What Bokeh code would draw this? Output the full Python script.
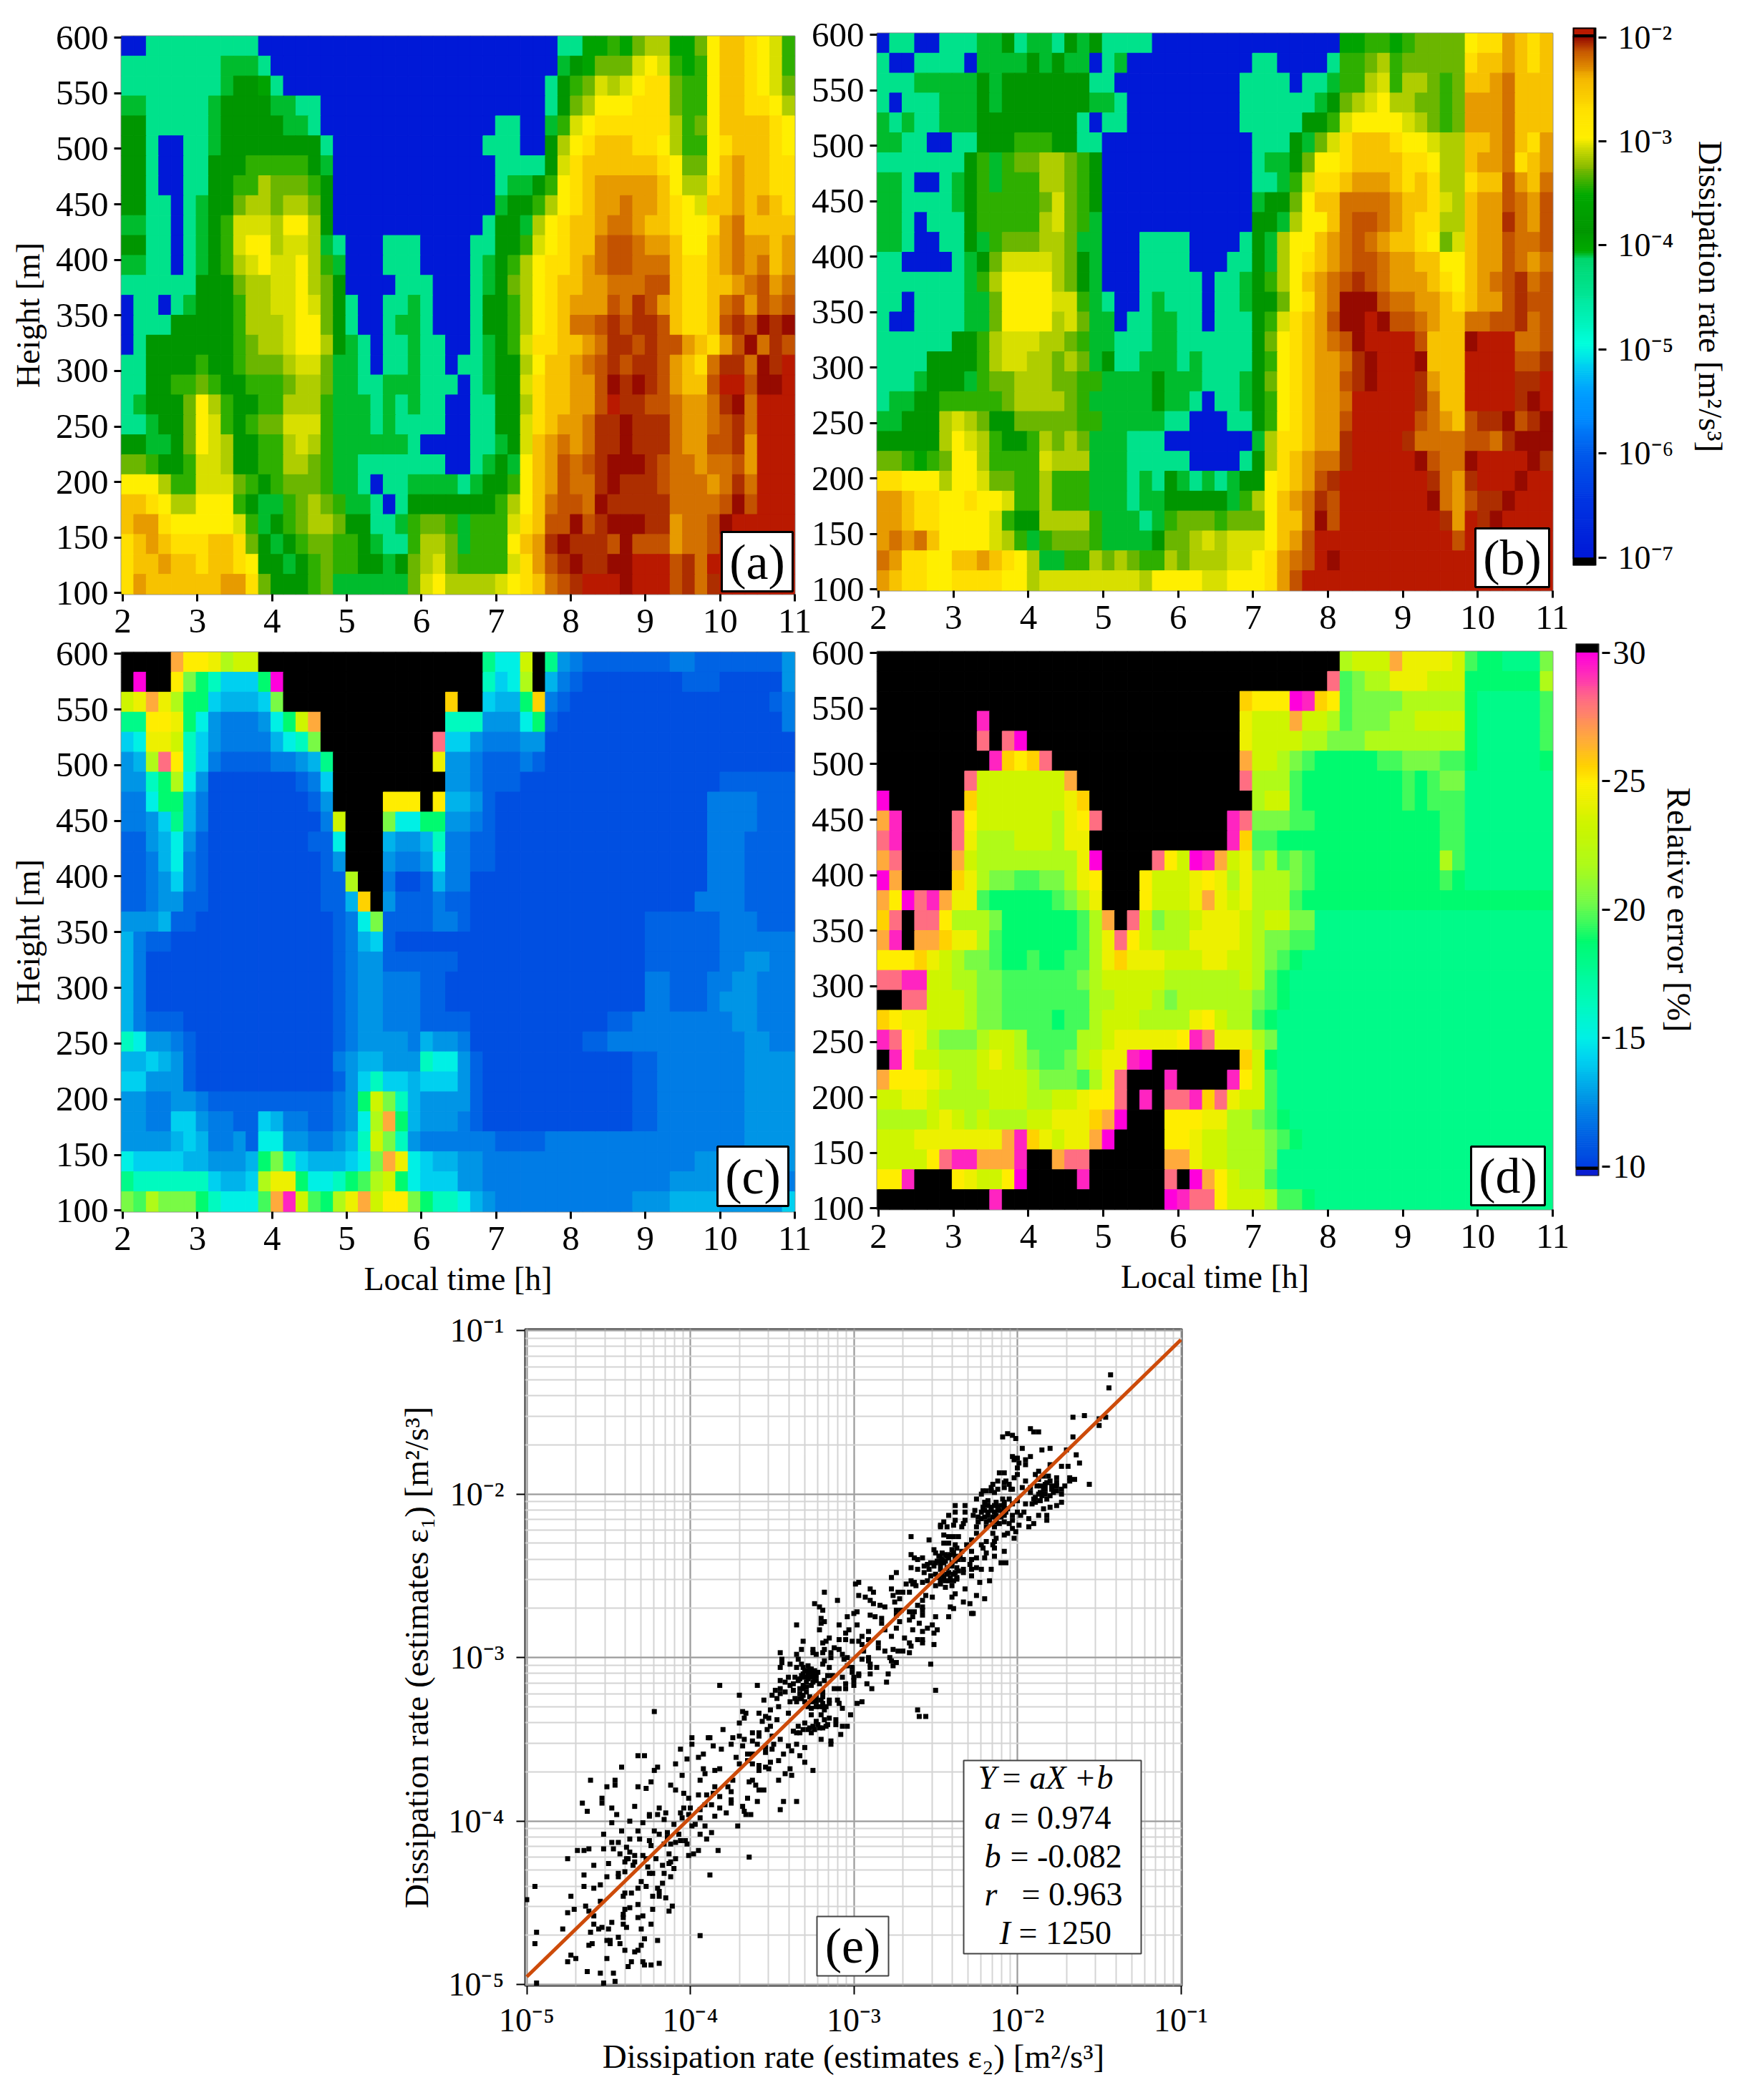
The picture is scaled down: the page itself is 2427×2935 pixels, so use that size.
import numpy as np
from bokeh.embed import file_html
from bokeh.resources import INLINE
from bokeh.plotting import figure
from bokeh.layouts import row, column
from bokeh.models import (ColumnDataSource, LinearColorMapper, Range1d, FixedTicker,
                          Label, BoxAnnotation, CustomJSTickFormatter)

# ---------- read values: heat-map levels, run-length coded per row, top row first ----------
DISS_LEVELS = dict(B=-7.0, M=-4.4, G=-4.08, g=-3.98, d=-3.85, h=-3.42, l=-3.29, o=-3.15, y=-3.04,
                   Y=-2.97, A=-2.7, a=-2.47, O=-2.33, r=-2.2, R=-2.12, D=-2.06, K=-2.0, X=-1.9)
ERR_LEVELS = dict(k=35.0, m=30.0, p=29.3, P=28.2, n=26.7, u=25.6, Y=25.0, E=24.3, e=23.3, L=21.8,
                  v=20.4, V=19.6, q=18.8, Q=18.0, s=16.3, c=15.0, C=14.2, t=13.4, T=12.7, b=12.0,
                  w=11.3, W=10.5)

PANEL_A = [
 "B2 M9 B24 M2 g2 h g l o2 g2 l Y a2 A Y y h",
 "M8 G3 M B23 G d g l3 y Y y h g h Y a2 A Y y h",
 "M8 G d2 g M B21 M d h l y o y Y A2 l h h Y a2 A Y y l",
 "G2 M5 G d4 G2 M2 B18 M d l o Y3 A3 l h2 Y a2 A2 Y o",
 "d2 M5 G d5 G2 M B14 M2 B2 G h y Y A6 o h l Y a4 A Y",
 "d2 M B2 M2 G d8 M B12 M3 B2 d o Y A a3 A2 Y o h2 Y A a3 A Y",
 "d2 M B2 M2 d3 h5 d G B13 M4 d y A a6 A Y l2 Y a O a2 A2",
 "d2 M B2 M2 d2 h2 o l3 h d B13 M G2 d h Y A a O5 a Y o2 A a O a2 A2",
 "d2 M2 B M G d2 l o2 l o2 l d B13 G d2 h o Y A a O2 r O2 a A Y y a2 O a O a A",
 "G2 M2 B M G d h y3 o Y2 o d B12 M d2 G o Y A a2 O r2 O a2 A Y2 A O r a4",
 "d2 M2 B M G d h y Y2 o y2 o G M B3 M3 B4 M2 d2 h y Y A a2 r R2 r O2 a Y2 a O r O2 a O",
 "G2 M2 B M G d h o y Y y2 Y o h G B3 M3 B4 M G d h o Y A2 a O r R2 r3 a A2 a O r O r a O",
 "M6 d3 l o2 y2 Y o l d B4 M3 B3 M G d l o Y A a2 O2 r3 R2 a A2 a2 O r R O r",
 "B M2 B M G d3 h o2 y2 Y y l d M B2 M2 G M B3 M d2 h o Y A a O3 R r D R O a A2 a r R O R r R",
 "B M3 d5 h o2 o y Y2 l d M B2 M G2 M B3 M d2 h o Y A a r2 R D R D2 R a A2 a R D R K D K",
 "B M d7 h l o2 y Y2 o d G M B M2 G M2 B2 M G d h y A2 a2 O r D2 R D R2 O a A O R K r D R K",
 "M2 d4 h d2 h l3 o y2 l G2 M B M2 G M2 B M2 G d2 o Y a2 O r R D R D2 R O a A r D2 r K D X",
 "M2 d2 h2 l h d2 h3 l o2 l G2 M2 G3 M3 B M G d2 y A a2 O2 R K D K D R O a2 R X2 R K2 X",
 "M G d3 l Y o h d2 h2 o3 h G3 M G M G M2 B2 M2 d2 o A a2 O2 R X D2 R2 r O2 r D K r X3",
 "M2 G d2 l Y y h d h l2 y3 h G3 M G M4 B2 M2 d2 y A a O2 r D2 K D3 r O2 r R D r X3",
 "d2 G2 d l Y y o d2 h2 o y o h G2 G4 M B4 M2 G d y a O r O r D2 K D3 r O2 R2 D O X3",
 "l2 h d2 h y2 o d2 h2 o2 l h G2 M7 B2 M G d G Y a O R r R D K3 D R r2 O r2 R O X3",
 "Y3 o h2 y3 l h d h l3 h G2 M B M2 G4 M G d2 h Y a O R r2 D K D3 R r3 O r D r X3",
 "a2 A Y o2 Y3 h d G2 h l o l h G2 M B M d7 h o Y a r R2 r K D5 r4 R K R X3",
 "a O2 A Y5 y h G d h l o2 l d2 M2 G h l2 h G h3 y A a R2 K R D K3 D2 O r2 R K X5",
 "A a O a A3 a2 A l d G d h l2 h2 d G M2 h o2 l G h3 Y a O D K D3 R K R3 O r2 R X6",
 "A a2 O a2 A a2 A Y d2 G d h l h2 d2 G d l o y l h4 y A O R D K D2 K2 X3 R D r X7",
 "A O a6 O2 A l d3 h l G6 l y Y o4 y Y A a r R D X3 K X3 R D r D X6",
]

PANEL_B = [
 "B M2 B2 M3 G2 d M G2 M d G d M4 B15 g2 h2 g h l3 l Y A2 O a A a",
 "M B2 M4 B G4 d G d G2 B M G B10 M2 B4 M h2 l o h l5 A a2 O a A a",
 "M3 G5 d G d7 M2 B10 M4 B M2 G h2 o y h o2 l h l a2 O r a3",
 "M B M3 G3 d G d7 G2 M B9 M6 G d l o y Y o2 l2 h l O3 r a3",
 "G M G M2 G3 d8 M B M2 B9 M5 d2 h y Y4 y o l h l O3 r a3",
 "G2 M2 B2 M2 d3 h3 d2 M2 B12 M3 d G l y A a3 A Y2 y o2 a2 O r a A O",
 "M7 d h G h l2 o2 l h d B12 M G2 d l Y2 A a4 A2 Y o2 a O2 r A a O",
 "G2 M B2 M G d h G h3 o2 l h d B12 M2 G h y A2 a O3 a A a A o2 A a2 R O a r",
 "G2 M4 G d h3 h2 l y l h d B12 G d2 l Y a2 r4 O a2 A y o a O2 R r O R",
 "G2 M B M3 d h2 h2 h o y l h G B12 d2 G o Y2 a r R2 r O a A2 o2 a O2 D r O R",
 "G2 M B2 M2 d G h l3 o2 l G2 B3 M4 B4 M d G o Y2 a O r R r O a2 A Y l y a O2 R r2 R",
 "M2 B4 M G d l y4 o l d G B3 M4 B3 M2 d G o Y A a O r R2 r O2 a2 Y2 a O2 R r O r",
 "M7 G h o Y4 o l d G B3 M5 B M2 G d h o Y a O r R D R r O3 a A Y a O r R D r R",
 "M2 B M4 G2 l Y4 y2 h G M B2 M G M3 B M2 G d2 l Y A O r K3 R r2 O2 a A a O2 R D R2",
 "M B2 M4 G2 l Y4 o y l G2 B M2 G2 M2 B M3 d h y A a O R K2 X K R2 r O a2 r2 R2 D r R",
 "M6 d2 h o y3 o2 l h G2 M3 G2 M6 d l Y A a O r R K X4 R a3 K X3 r2 R",
 "M4 d4 h o y2 o2 l o l G d M2 G3 M G M4 d h Y A a O2 r D K X3 K a3 X4 R2 D",
 "M3 G d3 G h l2 o3 l2 h2 G4 d G3 M3 G d l Y A a O2 R D K X3 D O a2 X4 D2 X",
 "M G2 d2 h5 l o4 l h G5 d G2 M B M2 G d h Y A a O2 r X5 D r a2 X4 D K X",
 "G2 d3 o y o l d2 l5 h2 G5 M2 B3 M2 d h Y A a O2 R X5 R r O a R D2 K R D K",
 "d5 o Y y o h d2 h o l o l G3 M3 B7 G o A2 a O2 D X4 D r4 R2 r D K3",
 "l2 h g h l Y2 o h4 y o3 G3 M5 B4 M d o A a O r2 D X5 K R r2 K X4 K D",
 "A2 Y3 o Y2 y l2 h2 o h3 G3 M G M d G M G M G d2 Y A a O R D X7 D r O D X3 K X2",
 "O2 a A2 Y2 A Y2 y h2 o h3 G3 M G2 d5 G h o Y a O r D R X7 K r O R D2 K X3",
 "O2 a A2 Y4 y h d2 o4 h G3 M G h l3 h l3 Y a a r K R X8 D O X D K X4",
 "O r O r a Y4 y o h G h l3 h G4 d l2 o y o y3 Y a O R X11 R X7",
 "r O A2 Y2 a2 O a A Y o G2 h2 o l o l h2 o l o3 y2 Y A O r R X K X17",
 "O a A2 Y2 A4 Y2 o y3 y5 o Y4 y2 Y3 A O R X20",
]

PANEL_C = [
 "k4 n Y2 E L e2 k18 Q c2 e k Q T b w7 b2 w7 T",
 "k m k2 Y v q s C3 q m k16 s C c L k t b w W8 w3 W5 T",
 "e E n E L q2 C t3 C v k13 u k2 C t2 q u b w W16 w b",
 "Q2 Y2 E q c T b3 T c q e n k10 s3 T3 c q w W18 b",
 "C c E2 e s C T b4 t c s v k9 P C2 T b3 T2 W20",
 "T t L P Y s C b w4 b2 T t Q k8 E T2 b w3 b w W20",
 "T2 s q L c T W7 w b C k9 T2 b w3 W16 w6",
 "b2 c q2 t b W8 w T k4 Y3 k Y t2 T w W17 b4 w3",
 "b2 T C Q t b W9 b e k3 v c2 q2 T2 b w W17 b4 w3",
 "w2 T t c T w W8 w2 c k3 t T2 t s b2 w2 W17 b3 w4",
 "w2 b t c b w W9 w T k3 T b2 T c b2 w2 W17 b3 w4",
 "w2 b T C b w W9 w2 L k2 b W2 w t b2 W19 b3 w4",
 "w2 b T2 w2 W9 w2 t u k T w3 b w2 W18 b4 w4",
 "T3 t w2 W11 w b c v w3 w b2 w W14 w6 b3 w3",
 "t b w2 W13 w b t C w W20 w6 b6",
 "t b W15 w b T2 w6 W15 w6 b2 T2 b2",
 "t b W15 w b T2 b3 w2 W16 b2 w3 b2 T2 b3",
 "t b W15 w b T2 b3 w2 W16 b2 w3 b T3 b3",
 "t b w3 W12 w b T2 b3 w4 W11 w2 b8 T2 b3",
 "s c T2 b w W11 w b T4 b t T2 b W9 w2 b11 T2 b2",
 "t2 C t T w W11 b T t2 T3 s c2 T w W12 w2 b7 T4",
 "C2 T3 w W11 w T C s C2 t C3 T w W12 w2 b7 T4",
 "T2 b2 T2 b w10 b T q e v s t T4 w W12 w2 b7 T4",
 "T2 b2 C2 T b2 w2 C t b2 w2 b T c L n q t T3 b w W12 w2 b7 T4",
 "T4 t C t b2 T w c2 T2 b2 T t s e v s T b6 w4 b16 T4",
 "c C4 t2 T3 t q v s C t3 C c v n E c C t2 T2 b17 T8",
 "Q s6 C t2 C L E2 q c2 s q V L e q c C3 T2 b15 T5 b5",
 "v V L v3 q s c3 V n p e V q L E n e Y2 v q s2 c t T b11 T3 t4 T5 C",
]

PANEL_D = [
 "k37 L e3 n E4 e V q2 Q3 v",
 "k36 P V v L2 E3 e3 q6 L",
 "k29 u Y3 m p u Y V v v3 L5 q Q5 V",
 "k8 p k20 E e3 n e2 L V v3 L2 e4 q Q5 V",
 "k8 P k P m k17 E e4 L2 v3 L8 q Q5 V",
 "k9 p u Y u P k15 n e2 L v V q5 V2 v3 V2 q Q5 q",
 "k7 P e7 n k13 P L3 V q8 V q V v2 Q7",
 "m k6 u e7 E u k13 L e2 V q8 V q V3 Q7",
 "n p k4 P Y e6 L E Y P k10 p P v3 V2 q10 V2 Q7",
 "P p k4 P E L3 e3 L E2 k11 p u V2 q13 V2 Q7",
 "n P k4 n e L8 E m k4 P Y e m p n e E v L V v V q10 L V Q7",
 "m n k4 u E L v2 V2 v2 L E Y k3 Y e3 E Y E L E L3 v V q10 V q Q7",
 "n Y m P p n E2 V q5 V v L E k3 Y e3 E n E e E L3 V q20",
 "u P k P2 Y L3 v q6 V L n k P e v L2 e E3 e L e2 v2 Q19",
 "n p k n2 u E2 L V q6 V L E P Y e L3 E4 e L v2 V2 Q19",
 "Y3 u E e L v2 V q2 V q2 V2 L E u E3 e3 E2 e2 L v V q Q20",
 "P2 p2 e2 L2 v2 V6 v L e5 L6 e L V q Q21",
 "k2 P2 e3 L v2 V7 L2 e3 L v L6 v V q Q21",
 "u Y E2 e3 L v2 V4 q V2 L e3 L4 E Y e L2 V q Q22",
 "p P Y E L v3 L e2 L V4 L2 e E5 Y p P E3 L v Q22",
 "k p Y e2 L3 e E e L v V2 v L e E2 p m k7 u e q Q22",
 "n Y3 E e L2 e4 L v3 V L E P k3 p k4 p Y e V Q22",
 "e2 E2 e L4 e3 L2 e2 E Y2 P k p k P2 p u P E e2 V Q22",
 "L4 e E e L e L3 e2 E3 u n m k3 Y3 E2 L2 v V q Q21",
 "e3 E7 n p u E e E2 n m k4 Y2 E e2 L3 v V q Q20",
 "e4 Y P p2 n3 p k2 n P2 k6 n2 E e2 L3 v Q22",
 "Y2 p k3 Y E e2 Y m k4 p k6 P k m n Y e L2 V Q22",
 "k9 p k13 m p P2 Y e3 L V2 q Q19",
]

# scatter: log10 of (estimates eps2, estimates eps1)
POINTS_LOW = [
(-4.22,-3.33),(-3.68,-3.33),(-3.66,-3.34),(-3.58,-3.34),(-3.67,-3.37),(-3.70,-3.40),(-3.51,-3.32),(-3.46,-3.30),(-3.40,-3.34),(-3.54,-3.36),
(-3.56,-3.39),(-3.52,-3.37),(-3.47,-3.38),(-3.51,-3.42),(-3.53,-3.44),(-3.80,-3.44),(-3.99,-3.49),(-3.89,-3.49),(-3.88,-3.49),(-3.74,-3.49),
(-3.70,-3.48),(-3.67,-3.50),(-3.62,-3.46),(-3.58,-3.46),(-3.62,-3.51),(-3.58,-3.48),(-3.50,-3.48),(-3.45,-3.50),(-3.99,-3.53),(-3.86,-3.54),
(-3.81,-3.56),(-3.75,-3.53),(-3.68,-3.54),(-3.59,-3.53),(-3.54,-3.55),(-3.49,-3.53),(-3.35,-3.53),(-3.30,-3.55),(-4.06,-3.56),(-4.32,-3.60),
(-4.28,-3.60),(-3.92,-3.59),(-3.95,-3.61),(-4.02,-3.62),(-3.72,-3.61),(-3.54,-3.58),(-3.50,-3.56),(-3.40,-3.54),(-3.43,-3.59),(-3.38,-3.57),
(-3.65,-3.59),(-3.62,-3.59),(-3.65,-3.63),(-3.46,-3.63),(-3.51,-3.64),(-3.33,-3.60),(-3.30,-3.64),(-4.09,-3.65),(-3.70,-3.65),(-3.62,-3.65),
(-3.58,-3.66),(-3.54,-3.67),(-4.20,-3.67),(-4.42,-3.67),(-4.22,-3.69),(-3.92,-3.68),(-3.91,-3.71),(-3.85,-3.69),(-3.82,-3.68),(-3.58,-3.69),
(-3.52,-3.68),(-3.39,-3.68),(-3.42,-3.71),(-3.38,-3.72),(-4.05,-3.72),(-4.61,-3.75),(-4.46,-3.75),(-4.46,-3.78),(-3.94,-3.75),(-3.46,-3.75),
(-4.24,-3.76),(-4.12,-3.78),(-4.51,-3.79),(-4.32,-3.79),(-4.27,-3.80),(-4.09,-3.81),(-3.74,-3.75),(-3.62,-3.75),(-3.64,-3.76),(-3.60,-3.78),
(-3.58,-3.81),(-3.55,-3.81),(-3.77,-3.79),(-3.85,-3.79),(-3.75,-3.82),(-4.04,-3.83),(-3.95,-3.84),(-3.90,-3.84),(-3.86,-3.83),(-3.82,-3.85),
(-4.54,-3.86),(-4.54,-3.89),(-4.01,-3.86),(-3.65,-3.86),(-3.43,-3.88),(-3.35,-3.88),(-3.75,-3.87),(-3.75,-3.89),(-3.59,-3.88),(-4.66,-3.89),
(-3.91,-3.90),(-3.87,-3.90),(-4.34,-3.91),(-4.48,-3.92),(-4.19,-3.92),(-3.82,-3.92),(-3.68,-3.91),(-3.67,-3.94),(-4.04,-3.92),(-4.00,-3.92),
(-4.63,-3.94),(-3.45,-3.93),(-4.06,-3.95),(-4.15,-3.95),(-4.45,-3.96),(-4.25,-3.96),(-4.20,-3.96),(-3.94,-3.93),(-3.78,-3.95),(-3.66,-3.96),
(-3.63,-3.96),(-3.85,-3.97),(-4.25,-3.97),(-4.01,-3.96),(-4.05,-3.98),(-3.94,-3.98),(-4.16,-3.99),(-4.37,-4.00),(-4.48,-4.01),(-4.29,-4.01),
(-4.10,-4.02),(-3.97,-4.02),(-3.99,-4.03),(-3.91,-4.03),(-3.71,-4.03),(-4.42,-4.06),(-4.32,-4.06),(-4.22,-4.06),(-4.19,-4.08),(-4.07,-4.08),
(-4.53,-4.08),(-4.14,-4.07),(-3.94,-4.08),(-3.87,-4.07),(-4.37,-4.11),(-4.31,-4.11),(-3.90,-4.11),(-4.25,-4.12),(-4.14,-4.10),(-4.06,-4.12),
(-4.03,-4.12),(-4.02,-4.14),(-4.48,-4.13),(-4.44,-4.13),(-4.24,-4.15),(-4.12,-4.14),(-4.16,-4.14),(-4.09,-4.13),(-4.39,-4.16),(-4.69,-4.18),
(-4.65,-4.18),(-4.62,-4.17),(-4.53,-4.17),(-4.47,-4.17),(-4.37,-4.19),(-3.95,-4.18),(-3.83,-4.18),(-4.43,-4.20),(-4.34,-4.21),(-4.29,-4.21),
(-4.13,-4.20),(-4.01,-4.21),(-3.98,-4.20),(-3.64,-4.22),(-4.75,-4.23),(-4.39,-4.23),(-4.38,-4.23),(-4.09,-4.23),(-4.27,-4.23),(-4.21,-4.23),
(-4.50,-4.26),(-4.40,-4.25),(-4.34,-4.25),(-4.35,-4.27),(-4.12,-4.25),(-4.59,-4.27),(-4.17,-4.27),(-4.13,-4.26),(-4.26,-4.28),(-4.10,-4.29),
(-4.40,-4.31),(-4.44,-4.32),(-4.44,-4.34),(-4.25,-4.32),(-4.23,-4.32),(-4.16,-4.32),(-4.12,-4.34),(-4.51,-4.34),(-4.65,-4.33),(-3.88,-4.33),
(-4.30,-4.37),(-4.17,-4.38),(-4.55,-4.39),(-4.95,-4.40),(-4.65,-4.40),(-4.27,-4.40),(-4.59,-4.41),(-4.32,-4.41),(-4.20,-4.41),(-4.19,-4.43),
(-4.36,-4.44),(-4.40,-4.44),(-4.41,-4.46),(-4.23,-4.46),(-4.19,-4.46),(-4.15,-4.47),(-4.55,-4.49),(-5.00,-4.48),(-4.73,-4.46),(-4.32,-4.51),
(-4.64,-4.52),(-4.11,-4.52),(-4.37,-4.53),(-4.71,-4.54),(-4.75,-4.56),(-4.62,-4.55),(-4.23,-4.54),(-4.40,-4.54),(-4.13,-4.55),(-4.41,-4.57),
(-4.29,-4.58),(-4.32,-4.59),(-4.59,-4.58),(-4.41,-4.59),(-4.48,-4.62),(-4.59,-4.63),(-4.54,-4.65),(-4.56,-4.66),(-4.41,-4.63),(-4.39,-4.65),
(-4.24,-4.63),(-4.78,-4.66),(-4.50,-4.66),(-4.30,-4.66),(-4.94,-4.68),(-4.61,-4.68),(-3.94,-4.70),(-4.44,-4.71),(-4.28,-4.72),(-4.51,-4.73),
(-4.49,-4.73),(-4.49,-4.75),(-4.20,-4.73),(-4.95,-4.75),(-4.43,-4.75),(-4.60,-4.75),(-4.62,-4.76),(-4.30,-4.76),(-4.40,-4.79),(-4.34,-4.80),
(-4.32,-4.79),(-4.73,-4.82),(-4.70,-4.84),(-4.51,-4.84),(-4.75,-4.86),(-4.36,-4.86),(-4.29,-4.86),(-4.28,-4.88),(-4.24,-4.88),(-4.19,-4.87),
(-4.38,-4.89),(-4.63,-4.92),(-4.55,-4.93),(-4.47,-4.93),(-4.53,-4.99),(-4.46,-4.98),(-4.94,-4.99),
]
POINTS_MID = [
(-2.47,-2.20),(-2.43,-2.20),(-2.39,-2.19),(-2.34,-2.20),(-2.42,-2.26),(-2.39,-2.26),(-2.36,-2.26),(-2.45,-2.25),(-2.65,-2.26),(-2.54,-2.28),
(-2.28,-2.28),(-2.45,-2.30),(-2.42,-2.30),(-2.38,-2.31),(-2.31,-2.31),(-2.51,-2.34),(-2.40,-2.34),(-2.37,-2.33),(-2.34,-2.35),(-2.28,-2.35),
(-2.65,-2.37),(-2.63,-2.39),(-2.61,-2.40),(-2.58,-2.39),(-2.47,-2.38),(-2.43,-2.38),(-2.39,-2.36),(-2.35,-2.38),(-2.33,-2.40),(-2.28,-2.40),
(-2.50,-2.42),(-2.46,-2.40),(-2.42,-2.39),(-2.36,-2.40),(-2.29,-2.43),(-2.65,-2.45),(-2.61,-2.46),(-2.57,-2.44),(-2.54,-2.46),(-2.51,-2.44),
(-2.47,-2.43),(-2.45,-2.42),(-2.57,-2.48),(-2.37,-2.45),(-2.33,-2.46),(-2.28,-2.46),(-2.74,-2.48),(-2.77,-2.51),(-2.53,-2.50),(-2.50,-2.49),
(-2.45,-2.51),(-2.42,-2.48),(-2.38,-2.48),(-2.37,-2.51),(-2.33,-2.48),(-2.28,-2.50),(-2.97,-2.54),(-2.99,-2.55),(-2.68,-2.55),(-2.65,-2.53),
(-2.63,-2.54),(-2.58,-2.54),(-2.55,-2.53),(-2.47,-2.53),(-2.45,-2.52),(-2.42,-2.53),(-2.37,-2.52),(-2.90,-2.58),(-2.88,-2.60),(-2.77,-2.58),
(-2.76,-2.62),(-2.73,-2.60),(-2.70,-2.60),(-2.66,-2.60),(-2.62,-2.56),(-2.64,-2.55),(-2.50,-2.56),(-2.47,-2.55),(-2.44,-2.57),(-2.40,-2.56),
(-2.32,-2.58),(-3.18,-2.60),(-2.97,-2.62),(-2.93,-2.63),(-2.90,-2.65),(-2.72,-2.64),(-2.75,-2.66),(-2.56,-2.62),(-2.52,-2.63),(-2.38,-2.61),
(-2.40,-2.63),(-3.10,-2.65),(-2.88,-2.67),(-2.58,-2.65),(-2.84,-2.68),(-2.81,-2.69),(-3.24,-2.67),(-3.21,-2.69),(-3.19,-2.71),(-2.61,-2.68),
(-2.58,-2.69),(-2.41,-2.69),(-2.39,-2.70),(-2.33,-2.66),(-2.29,-2.67),(-2.74,-2.71),(-2.71,-2.71),(-2.66,-2.72),(-2.63,-2.72),(-2.58,-2.71),
(-2.98,-2.72),(-3.00,-2.73),(-2.28,-2.73),(-2.90,-2.74),(-2.87,-2.75),(-2.74,-2.74),(-3.04,-2.75),(-2.64,-2.75),(-2.58,-2.74),(-2.50,-2.75),
(-2.42,-2.75),(-3.20,-2.76),(-3.18,-2.78),(-3.20,-2.79),(-2.83,-2.76),(-2.83,-2.79),(-2.72,-2.78),(-2.66,-2.77),(-3.35,-2.80),(-3.09,-2.80),
(-2.98,-2.80),(-2.60,-2.79),(-2.52,-2.80),(-3.21,-2.83),(-3.03,-2.83),(-3.05,-2.85),(-2.81,-2.83),(-2.74,-2.82),(-2.64,-2.83),(-2.55,-2.82),
(-2.58,-2.84),(-2.49,-2.83),(-2.51,-2.85),(-2.91,-2.84),(-2.77,-2.87),(-3.15,-2.88),(-3.17,-2.90),(-3.19,-2.91),(-3.09,-2.89),(-3.05,-2.89),
(-2.95,-2.87),(-3.01,-2.90),(-2.97,-2.90),(-2.95,-2.92),(-2.91,-2.89),(-2.69,-2.88),(-2.66,-2.91),(-2.61,-2.89),(-2.58,-2.89),(-2.58,-2.91),
(-2.51,-2.92),(-3.31,-2.90),(-2.85,-2.91),(-2.85,-2.94),(-2.65,-2.93),(-3.32,-2.95),(-3.12,-2.94),(-3.09,-2.95),(-3.25,-2.95),(-3.18,-2.95),
(-3.14,-2.97),(-3.25,-2.97),(-2.76,-2.95),(-2.73,-2.96),(-2.70,-2.96),(-2.81,-2.96),(-2.66,-2.97),(-3.45,-2.97),(-3.35,-2.98),(-3.23,-2.98),
(-3.19,-2.97),(-3.07,-2.98),(-3.04,-3.00),(-2.94,-2.96),(-2.91,-3.00),(-2.78,-3.00),(-3.34,-3.01),(-3.18,-3.02),(-3.14,-3.00),(-3.06,-3.01),
(-3.44,-3.01),(-3.44,-3.03),(-2.95,-3.01),(-2.91,-3.02),(-2.90,-3.04),(-3.39,-3.04),(-3.32,-3.04),(-2.77,-3.02),(-2.74,-3.03),(-3.19,-3.04),
(-2.76,-3.05),(-2.53,-3.04),(-3.45,-3.06),(-3.35,-3.06),(-3.31,-3.06),(-3.28,-3.05),(-3.26,-3.07),(-3.15,-3.06),(-3.04,-3.05),(-3.01,-3.06),
(-2.90,-3.06),(-2.86,-3.06),(-3.29,-3.08),(-3.26,-3.09),(-3.16,-3.11),(-3.13,-3.11),(-3.01,-3.09),(-2.97,-3.10),(-2.90,-3.10),(-2.79,-3.10),
(-3.40,-3.12),(-3.36,-3.12),(-3.32,-3.11),(-3.28,-3.12),(-3.23,-3.11),(-3.07,-3.12),(-3.00,-3.12),(-2.97,-3.11),(-3.45,-3.14),(-3.42,-3.15),
(-3.37,-3.16),(-3.28,-3.13),(-3.34,-3.14),(-3.23,-3.14),(-3.18,-3.14),(-3.00,-3.14),(-2.92,-3.16),(-2.80,-3.15),(-3.82,-3.17),(-3.59,-3.17),
(-3.39,-3.17),(-3.31,-3.17),(-3.26,-3.17),(-3.12,-3.19),(-3.09,-3.19),(-3.05,-3.16),(-3.05,-3.19),(-3.00,-3.17),(-2.89,-3.19),(-3.45,-3.19),
(-3.48,-3.20),(-3.37,-3.20),(-3.31,-3.19),(-2.50,-3.20),(-3.42,-3.21),(-3.45,-3.22),(-3.70,-3.23),(-3.50,-3.23),(-3.31,-3.23),(-3.23,-3.24),
(-3.19,-3.21),(-3.19,-3.24),(-3.47,-3.25),(-3.55,-3.26),(-3.39,-3.27),(-3.35,-3.27),(-3.32,-3.25),(-3.15,-3.26),(-3.10,-3.26),(-2.95,-3.27),
(-2.98,-3.28),(-3.19,-3.28),(-3.15,-3.28),(-3.09,-3.28),(-3.26,-3.31),(-3.19,-3.30),(-3.07,-3.31),(-3.23,-3.30),(-3.18,-3.32),(-3.26,-3.35),
(-3.20,-3.35),(-3.02,-3.35),(-2.61,-3.32),(-2.60,-3.36),(-2.56,-3.36),(-3.15,-3.37),(-3.11,-3.38),(-3.23,-3.39),(-3.18,-3.38),(-3.11,-3.41),
(-3.25,-3.42),(-3.21,-3.43),(-3.16,-3.41),(-3.07,-3.42),(-3.04,-3.42),(-3.26,-3.46),(-3.08,-3.47),(-3.20,-3.50),(-3.14,-3.51),(-3.14,-3.53),
(-3.25,-3.69),
]
POINTS_HIGH = [
(-1.43,-1.27),(-1.44,-1.35),(-1.66,-1.53),(-1.59,-1.52),(-1.50,-1.54),(-1.46,-1.53),(-1.50,-1.58),(-1.92,-1.60),(-1.90,-1.62),(-1.87,-1.62),
(-2.09,-1.65),(-2.06,-1.63),(-2.03,-1.64),(-2.01,-1.66),(-1.66,-1.65),(-1.97,-1.72),(-1.80,-1.72),(-1.85,-1.73),(-1.70,-1.73),(-2.03,-1.77),
(-2.00,-1.78),(-1.92,-1.77),(-1.95,-1.79),(-1.64,-1.76),(-2.02,-1.79),(-1.99,-1.81),(-1.95,-1.82),(-2.00,-1.84),(-1.62,-1.81),(-1.80,-1.82),
(-1.73,-1.83),(-1.69,-1.83),(-2.11,-1.87),(-2.08,-1.87),(-1.87,-1.86),(-1.89,-1.88),(-2.00,-1.88),(-2.02,-1.90),(-2.05,-1.94),(-2.08,-1.93),
(-2.15,-1.94),(-1.95,-1.92),(-1.87,-1.91),(-1.84,-1.89),(-1.81,-1.89),(-1.76,-1.90),(-1.68,-1.90),(-1.65,-1.91),(-1.68,-1.92),(-1.56,-1.94),
(-1.76,-1.93),(-1.83,-1.94),(-1.79,-1.95),(-1.71,-1.95),(-2.12,-1.97),(-2.08,-1.96),(-2.04,-1.97),(-1.97,-1.96),(-1.88,-1.95),(-1.84,-1.97),
(-1.79,-1.97),(-1.73,-1.97),(-2.21,-1.98),(-2.16,-1.98),(-2.14,-1.99),(-2.22,-2.00),(-1.92,-1.99),(-1.87,-2.00),(-1.83,-2.00),(-1.80,-2.01),
(-1.73,-2.00),(-2.25,-2.03),(-2.18,-2.04),(-2.09,-2.03),(-2.05,-2.03),(-2.00,-2.04),(-1.89,-2.02),(-1.86,-2.04),(-2.20,-2.05),(-2.13,-2.05),
(-2.08,-2.05),(-2.03,-2.06),(-1.95,-2.06),(-1.91,-2.06),(-1.89,-2.05),(-1.73,-2.05),(-2.38,-2.07),(-2.32,-2.07),(-1.76,-2.07),(-2.21,-2.08),
(-2.16,-2.08),(-2.12,-2.08),(-2.08,-2.08),(-1.84,-2.09),(-1.80,-2.08),(-2.38,-2.11),(-2.32,-2.11),(-2.26,-2.10),(-2.22,-2.11),(-2.18,-2.11),
(-2.14,-2.11),(-2.09,-2.11),(-2.00,-2.11),(-1.96,-2.11),(-2.27,-2.13),(-2.42,-2.13),(-1.87,-2.13),(-2.20,-2.14),(-2.15,-2.14),(-2.08,-2.13),
(-2.03,-2.13),(-1.98,-2.13),(-1.93,-2.15),(-1.82,-2.13),(-1.82,-2.16),(-2.32,-2.16),(-2.38,-2.16),(-2.33,-2.18),(-2.45,-2.17),(-2.24,-2.17),
(-2.19,-2.17),(-2.13,-2.17),(-2.08,-2.17),(-2.03,-2.16),(-1.99,-2.19),(-1.90,-2.18),(-2.47,-2.19),(-1.93,-2.20),(-2.25,-2.20),(-2.19,-2.20),
(-2.14,-2.20),(-2.03,-2.21),(-2.01,-2.23),(-2.25,-2.24),(-2.15,-2.24),(-2.06,-2.24),(-2.08,-2.25),(-2.13,-2.27),(-2.02,-2.27),(-2.19,-2.29),
(-2.14,-2.29),(-2.22,-2.31),(-2.15,-2.31),(-2.21,-2.33),(-2.14,-2.33),(-2.08,-2.35),(-2.19,-2.36),(-2.14,-2.38),(-2.25,-2.39),(-2.20,-2.39),
(-2.10,-2.42),(-2.07,-2.42),(-2.25,-2.45),(-2.22,-2.46),(-2.16,-2.46),(-2.17,-2.53),(-2.23,-2.54),(-2.25,-2.62),(-2.20,-2.64),(-2.27,-2.73),
]
POINTS_CORE = [
(-3.30,-3.08),(-3.27,-3.07),(-3.24,-3.08),(-3.31,-3.10),(-3.28,-3.10),(-3.25,-3.10),(-3.22,-3.09),(-3.30,-3.12),(-3.26,-3.12),(-3.24,-3.13),
(-3.33,-3.13),(-3.29,-3.15),(-3.25,-3.15),(-3.21,-3.16),(-3.33,-3.19),(-3.29,-3.18),(-3.33,-3.22),(-3.29,-3.21),(-3.27,-3.24),(-3.33,-3.25),
(-3.36,-3.25),(-3.30,-3.27),(-3.26,-3.27),(-3.23,-3.27),(-3.20,-3.26),(-3.21,-3.30),(-3.17,-3.30),(-3.28,-3.30),(-3.31,-3.44),(-3.34,-3.42),
(-3.30,-3.40),(-3.37,-3.45),(-3.35,-3.46),(-3.33,-3.46),(-3.28,-3.44),(-3.24,-3.44),(-3.22,-3.41),(-3.19,-3.43),(-3.27,-3.43),(-3.17,-3.42),
(-2.50,-2.36),(-2.48,-2.38),(-2.46,-2.36),(-2.44,-2.37),(-2.41,-2.37),(-2.38,-2.38),(-2.55,-2.43),(-2.53,-2.42),(-2.49,-2.41),(-2.44,-2.41),
(-2.40,-2.42),(-2.38,-2.41),(-2.47,-2.46),(-2.43,-2.45),(-2.40,-2.44),(-2.36,-2.47),(-2.39,-2.49),(-2.43,-2.49),(-2.46,-2.49),(-2.48,-2.51),
(-2.41,-2.51),(-2.39,-2.53),(-2.44,-2.53),(-2.18,-2.07),(-2.14,-2.07),(-2.10,-2.07),(-2.06,-2.09),(-2.20,-2.10),(-2.16,-2.10),(-2.11,-2.10),
(-2.07,-2.11),(-2.18,-2.13),(-2.13,-2.13),(-2.10,-2.14),(-2.24,-2.14),(-2.22,-2.15),(-2.17,-2.16),(-2.13,-2.15),(-2.11,-2.18),(-2.05,-2.18),
(-1.90,-2.03),(-1.85,-2.01),(-1.82,-2.03),(-1.86,-1.99),(-1.83,-1.97),(-1.78,-1.99),(-1.76,-1.98),(-1.82,-1.93),(-1.80,-1.92),(-1.76,-1.95),
(-1.86,-1.95),(-1.92,-1.96),(-2.12,-1.92),(-2.07,-1.92),(-2.03,-1.97),(-2.16,-1.96),(-2.19,-1.98),
]
FIT_A = 0.974
FIT_B = -0.082
FIT_X = [1e-5, 1e-1]

TIME_TICKS = list(range(2, 12))
HEIGHT_TICKS = list(range(100, 601, 50))
DISS_TICKS = [-7, -6, -5, -4, -3, -2]
ERR_TICKS = [10, 15, 20, 25, 30]

# ---------- style ----------
SERIF = "Liberation Serif"
FS = "46px"
FS_TICK = "49px"
SUP = {1: "\u00b9", 2: "\u00b2", 3: "\u00b3", 4: "\u2074", 5: "\u2075", 6: "\u2076", 7: "\u2077"}

DISS_ANCHORS = [(-7, (0, 25, 215)), (-6.5, (0, 50, 225)), (-6, (0, 90, 235)), (-5.65, (0, 140, 255)),
                (-5.4, (0, 160, 255)), (-5.15, (0, 210, 240)), (-4.95, (0, 255, 220)), (-4.4, (0, 226, 140)),
                (-4.12, (0, 215, 110)), (-4.05, (0, 170, 0)), (-3.85, (0, 150, 0)), (-3.5, (0, 170, 0)),
                (-3.25, (130, 185, 0)), (-3.05, (210, 220, 0)), (-2.97, (255, 240, 0)), (-2.7, (255, 225, 0)),
                (-2.4, (245, 185, 0)), (-2.13, (200, 90, 0)), (-2.0, (150, 10, 0))]
ERR_ANCHORS = [(10, (0, 60, 225)), (10.5, (0, 80, 225)), (11.3, (0, 100, 228)), (12, (0, 125, 230)),
               (12.7, (0, 150, 230)), (13.4, (0, 180, 235)), (14.2, (0, 210, 240)), (15, (0, 240, 230)),
               (16.3, (0, 250, 190)), (17.6, (0, 250, 150)), (18.8, (0, 250, 110)), (19.6, (70, 250, 90)),
               (20.4, (120, 250, 70)), (21.8, (175, 250, 25)), (23.3, (205, 245, 0)), (24.3, (235, 240, 0)),
               (25, (255, 240, 0)), (25.6, (255, 210, 0)), (26.7, (255, 170, 60)), (28.2, (255, 110, 130)),
               (29.3, (255, 40, 190)), (30, (255, 0, 220))]


def palette(anchors, n=256):
    v = np.array([a[0] for a in anchors], float)
    c = np.array([a[1] for a in anchors], float)
    t = np.linspace(v[0], v[-1], n)
    return ["#%02x%02x%02x" % tuple(int(round(np.interp(q, v, c[:, k]))) for k in range(3)) for q in t]


diss_mapper = LinearColorMapper(palette=palette(DISS_ANCHORS), low=-7, high=-2, low_color="#000000", high_color="#b91900")
err_mapper = LinearColorMapper(palette=palette(ERR_ANCHORS), low=10, high=30, low_color="#0a1ed2", high_color="#000000")


def decode(rows, levels, ncol=54):
    out = []
    for r in rows:
        cells = []
        for tok in r.split():
            cells += [levels[tok[0]]] * (int(tok[1:]) if len(tok) > 1 else 1)
        cells = (cells + [cells[-1]] * ncol)[:ncol]
        out.append(cells)
    return np.array(out)


def panel(rows, levels, mapper, tag, fx, fy, fw, fh, ml, mt, mr, mb, tagbox, ylabel=False, xlabel=False):
    """fx/fy: frame position on the page; ml/mt/mr/mb: borders; tagbox in page pixels."""
    x0, x1, y0, y1 = 1.98, 11.0, 99.0, 601.4
    p = figure(frame_width=fw, frame_height=fh, x_range=Range1d(x0, x1), y_range=Range1d(y0, y1),
               output_backend="svg", toolbar_location=None, min_border_left=ml, min_border_top=mt,
               min_border_right=mr, min_border_bottom=mb,
               border_fill_color=None, background_fill_color="white")
    p.grid.visible = False
    z = decode(rows, levels)
    nr, nc = z.shape
    xe = np.linspace(x0, x1, nc + 1)
    ye = np.linspace(y1, y0, nr + 1)
    xc, yc = np.meshgrid((xe[:-1] + xe[1:]) / 2, (ye[:-1] + ye[1:]) / 2)
    src = ColumnDataSource(dict(x=xc.ravel(), y=yc.ravel(), v=z.ravel()))
    tr = {"field": "v", "transform": mapper}
    p.rect("x", "y", width=xe[1] - xe[0], height=ye[0] - ye[1], source=src,
           fill_color=tr, line_color=tr, line_width=1)
    for ax, ticks in ((p.xaxis, TIME_TICKS), (p.yaxis, HEIGHT_TICKS)):
        ax.ticker = FixedTicker(ticks=ticks)
        ax.major_label_text_font = SERIF
        ax.major_label_text_font_size = FS_TICK
        ax.major_label_text_color = "black"
        ax.major_tick_line_color = "black"
        ax.major_tick_line_width = 3
        ax.major_tick_out = 10
        ax.major_tick_in = 0
        ax.minor_tick_line_color = None
        ax.axis_line_color = None
        ax.axis_label_text_font = SERIF
        ax.axis_label_text_font_size = FS
        ax.axis_label_text_font_style = "normal"
        ax.axis_label_text_color = "black"
    p.xaxis.major_label_standoff = 11
    p.yaxis.major_label_standoff = 8
    if ylabel:
        p.yaxis.axis_label = "Height [m]"
        p.yaxis.axis_label_standoff = 10
    if xlabel:
        p.xaxis.axis_label = "Local time [h]"
        p.xaxis.axis_label_standoff = 12
    p.outline_line_color = "#8c8c8c"
    p.outline_line_width = 2
    to_x = lambda px: x0 + (px - fx) / fw * (x1 - x0)
    to_y = lambda py: y1 - (py - fy) / fh * (y1 - y0)
    bx0, bx1, by0, by1 = tagbox
    p.add_layout(BoxAnnotation(left=to_x(bx0), right=to_x(bx1), top=to_y(by0), bottom=to_y(by1),
                               fill_color="white", fill_alpha=1, line_color="black", line_alpha=1, line_width=3))
    p.add_layout(Label(x=to_x((bx0 + bx1) / 2), y=to_y((by0 + by1) / 2), text=tag, text_font=SERIF,
                       text_font_size="70px", text_align="center", text_baseline="middle", text_color="black"))
    return p


pa = panel(PANEL_A, DISS_LEVELS, diss_mapper, "(a)", 169, 50, 941, 780, 161, 42, 30, 115, (1008, 1107, 743, 826), ylabel=True)
pb = panel(PANEL_B, DISS_LEVELS, diss_mapper, "(b)", 1225, 46, 944, 779, 95, 38, 23, 115, (2061, 2164, 738, 820))
pc = panel(PANEL_C, ERR_LEVELS, err_mapper, "(c)", 169, 911, 941, 782, 161, 31, 30, 130, (1002, 1101, 1602, 1685), ylabel=True, xlabel=True)
pd_ = panel(PANEL_D, ERR_LEVELS, err_mapper, "(d)", 1224, 910, 944, 780, 94, 30, 24, 133, (2054, 2157, 1602, 1684), xlabel=True)
pb.margin = (-4, 0, 0, -10)
pd_.margin = (-1, 0, 0, -10)


def colorbar(mapper, ticks, overrides, title, ymin, ymax, vlow, vhigh, extras, barw, fw, ml, mt, fh, mb, std, tstd, outline):
    p = figure(frame_width=fw, frame_height=fh, x_range=Range1d(0, fw), y_range=Range1d(ymin, ymax),
               x_axis_location=None, y_axis_location="right", output_backend="svg", toolbar_location=None,
               min_border_left=ml, min_border_top=mt, min_border_right=227 - ml - fw,
               min_border_bottom=mb, border_fill_color=None, background_fill_color=None)
    p.grid.visible = False
    p.outline_line_color = None
    vals = np.linspace(vlow, vhigh, 241)
    st = vals[1] - vals[0]
    src = ColumnDataSource(dict(y=vals, x=np.full(vals.shape, barw / 2)))
    tr = {"field": "y", "transform": mapper}
    p.rect("x", "y", width=barw, height=st, source=src, fill_color=tr, line_color=tr, line_width=1)
    for (a, b, col) in extras:
        p.quad(left=0, right=barw, bottom=a, top=b, fill_color=col, line_color=col, line_width=0)
    p.quad(left=0, right=barw, bottom=ymin, top=ymax, fill_color=None, line_color=outline[0], line_width=outline[1])
    ax = p.yaxis[0]
    ax.ticker = FixedTicker(ticks=ticks)
    if overrides:
        ax.major_label_overrides = overrides
    ax.major_label_text_font = SERIF
    ax.major_label_text_font_size = FS
    ax.major_label_text_color = "black"
    ax.major_tick_line_color = "black"
    ax.major_tick_line_width = 3
    ax.major_tick_out = 11
    ax.major_tick_in = 0
    ax.minor_tick_line_color = None
    ax.axis_line_color = None
    ax.major_label_standoff = std
    ax.axis_label = title
    ax.axis_label_text_font = SERIF
    ax.axis_label_text_font_size = "47px"
    ax.axis_label_text_font_style = "normal"
    ax.axis_label_text_color = "black"
    ax.axis_label_standoff = tstd
    return p


cb1 = colorbar(diss_mapper, DISS_TICKS, {t: "10\u207b" + SUP[-t] for t in DISS_TICKS}, "Dissipation rate [m\u00b2/s\u00b3]",
               -7.078, -1.906, -7, -2,
               [(-2.0, -1.906, "#b91900"), (-2.0, -1.972, "#000000"), (-7.078, -7.0, "#000000")],
               31, 36, 5, 42, 752, 100, 16, 22, ("black", 4))
cb1.margin = (-12, 0, 0, 0)
cb2 = colorbar(err_mapper, ERR_TICKS, None, "Relative error [%]",
               9.64, 30.35, 10, 30,
               [(30.0, 30.35, "#000000"), (9.88, 10.0, "#000000"), (9.64, 9.88, "#0a1ed2")],
               32, 37, 8, 31, 744, 130, 4, 17, ("#222222", 2))
cb2.margin = (-12, 0, 0, 0)

# ---------- scatter ----------
pts = np.array(POINTS_LOW + POINTS_MID + POINTS_HIGH + POINTS_CORE)
eps2 = 10.0 ** pts[:, 0]
eps1 = 10.0 ** pts[:, 1]
DEC = 228.5
ex = lambda px: 10 ** (-5 + (px - 735.5) / DEC)
ey = lambda py: 10 ** (-5 + (2773.2 - py) / DEC)

pe = figure(frame_width=918, frame_height=918, x_axis_type="log", y_axis_type="log",
            x_range=Range1d(ex(733), ex(1651)), y_range=Range1d(ey(2775), ey(1857)),
            output_backend="svg", toolbar_location=None, min_border_left=233, min_border_top=39,
            min_border_right=100, min_border_bottom=150, border_fill_color=None, background_fill_color="white")
pe.margin = (-5, 0, 0, 492)
pe.grid.grid_line_color = "#9a9a9a"
pe.grid.grid_line_width = 2
pe.grid.minor_grid_line_color = "#d4d4d4"
pe.grid.minor_grid_line_width = 2
pe.outline_line_color = "#333333"
pe.outline_line_width = 2
LOG_LABEL_JS = ("const e = Math.round(-Math.log10(tick));"
                "const s = {1:'\u00b9',2:'\u00b2',3:'\u00b3',4:'\u2074',5:'\u2075'};"
                "return '10\u207b' + s[e];")
for ax in (pe.xaxis, pe.yaxis):
    ax.formatter = CustomJSTickFormatter(code=LOG_LABEL_JS)
    ax.major_label_text_font = SERIF
    ax.major_label_text_font_size = FS
    ax.major_label_text_color = "black"
    ax.major_tick_line_color = "black"
    ax.major_tick_line_width = 2
    ax.major_tick_out = 12
    ax.major_tick_in = 0
    ax.minor_tick_line_color = None
    ax.axis_line_color = None
    ax.axis_label_text_font = SERIF
    ax.axis_label_text_font_size = "47px"
    ax.axis_label_text_font_style = "normal"
    ax.axis_label_text_color = "black"
pe.xaxis.major_label_standoff = 10
pe.yaxis.major_label_standoff = 17
pe.xaxis.axis_label = "Dissipation rate (estimates \u03b5\u2082) [m\u00b2/s\u00b3]"
pe.yaxis.axis_label = "Dissipation rate (estimates \u03b5\u2081) [m\u00b2/s\u00b3]"
pe.xaxis.axis_label_standoff = -4
pe.yaxis.axis_label_standoff = 15
pe.scatter(eps2, eps1, marker="square", size=7, fill_color="black", line_color="black", line_width=0)
fit_x = np.array(FIT_X)
fit_y = 10 ** (FIT_A * np.log10(fit_x) + FIT_B)
pe.line(fit_x, fit_y, line_color="#cd4b0a", line_width=5)


def elabel(x, y, text, size="46px", style="normal", align="left"):
    pe.add_layout(Label(x=x, y=y, text=text, text_font=SERIF, text_font_size=size,
                        text_font_style=style, text_align=align, text_baseline="middle", text_color="black"))


pe.add_layout(BoxAnnotation(left=ex(1346), right=ex(1594), top=ey(2460), bottom=ey(2730),
                            fill_color="white", fill_alpha=1, line_color="#444444", line_alpha=1, line_width=2))
pe.add_layout(BoxAnnotation(left=ex(1141), right=ex(1241), top=ey(2678), bottom=ey(2761),
                            fill_color="white", fill_alpha=1, line_color="#444444", line_alpha=1, line_width=2))
elabel(ex(1191), ey(2719), "(e)", size="70px", align="center")
for px, py, txt, sty in [(1366, 2484, "Y", "italic"), (1400, 2484, "=", "normal"), (1438, 2484, "aX", "italic"),
                         (1503, 2484, "+", "normal"), (1532, 2484, "b", "italic"),
                         (1375, 2540, "a", "italic"), (1411, 2540, "= 0.974", "normal"),
                         (1375, 2594, "b", "italic"), (1411, 2594, "= -0.082", "normal"),
                         (1375, 2647, "r", "italic"), (1427, 2647, "= 0.963", "normal"),
                         (1396, 2701, "I", "italic"), (1423, 2701, "= 1250", "normal")]:
    elabel(ex(px), ey(py), txt, style=sty)

row1 = row(pa, pb, cb1, spacing=0)
row2 = row(pc, pd_, cb2, spacing=0, margin=(-65, 0, 0, 0))
root = column(row1, row2, pe, spacing=0, margin=(8, 0, 0, 8))
open("out.html", "w").write(file_html(root, INLINE))
